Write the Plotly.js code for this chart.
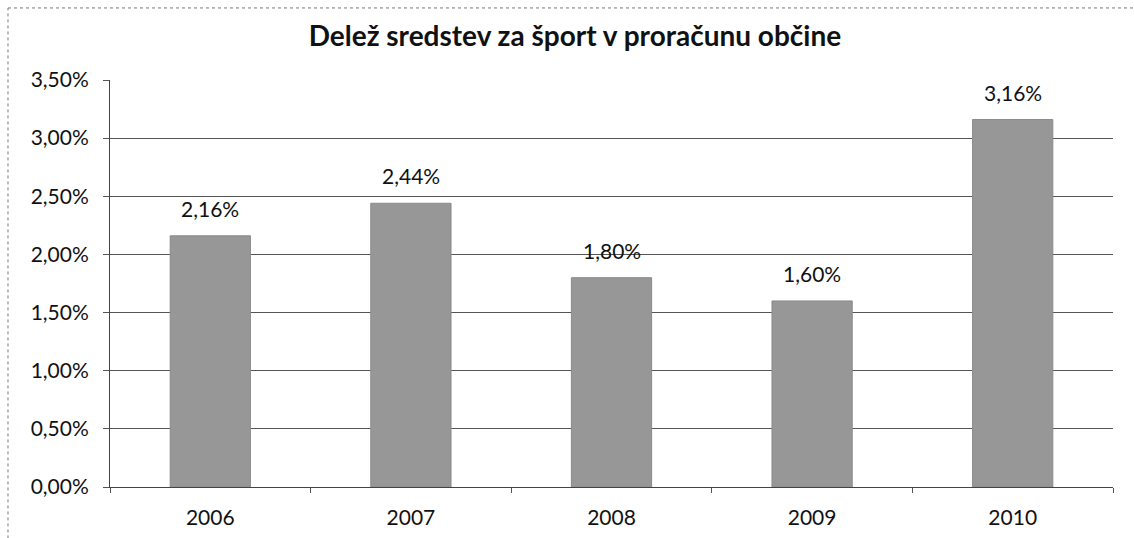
<!DOCTYPE html>
<html>
<head>
<meta charset="utf-8">
<script src="https://cdn.plot.ly/plotly-3.0.1.min.js"></script>
<style>html,body{margin:0;padding:0;background:#fff;}#chart{width:1134px;height:538px;}</style>
</head>
<body>
<div id="chart"></div>
<script>
const years = ['2006', '2007', '2008', '2009', '2010'];
const shares = [2.16, 2.44, 1.80, 1.60, 3.16];
const yTicks = [0, 0.5, 1, 1.5, 2, 2.5, 3, 3.5];
const yTickLabels = ['0,00%', '0,50%', '1,00%', '1,50%', '2,00%', '2,50%', '3,00%', '3,50%'];

const fontFam = 'Lato, "Open Sans", sans-serif';

const trace = {
  type: 'bar',
  x: years,
  y: shares,
  width: 0.4,
  marker: {color: '#979797', line: {color: '#8a8a8a', width: 1}},
  hoverinfo: 'skip'
};

// annotations on a category axis use the category index
const annotations = years.map((yr, i) => ({
  x: i, y: shares[i], xref: 'x', yref: 'y',
  text: shares[i].toFixed(2).replace('.', ',') + '%',
  showarrow: false, yanchor: 'bottom', yshift: 13,
  font: {family: fontFam, size: 21, color: '#111'}
}));

const layout = {
  width: 1134, height: 538,
  margin: {l: 110, r: 21, t: 80, b: 51},
  paper_bgcolor: '#fff', plot_bgcolor: '#fff',
  showlegend: false,
  title: {text: '<b>Delež sredstev za šport v proračunu občine</b>', x: 0.507, xanchor: 'center', y: 0.932, yanchor: 'middle',
    font: {family: fontFam, size: 28, color: '#111'}},
  xaxis: {
    type: 'category', range: [-0.5, 4.5], showgrid: false, showline: true, linecolor: '#444', linewidth: 1,
    ticks: 'outside', tickson: 'boundaries', ticklen: 5, tickcolor: '#555', ticklabelstandoff: 12,
    tickfont: {family: fontFam, size: 21, color: '#111'}, zeroline: false, fixedrange: true
  },
  yaxis: {
    range: [0, 3.5], tickvals: yTicks, ticktext: yTickLabels,
    showgrid: true, gridcolor: '#555', gridwidth: 1,
    showline: true, linecolor: '#444', linewidth: 1,
    ticks: 'outside', ticklen: 6, tickcolor: '#555', ticklabelstandoff: 10,
    tickfont: {family: fontFam, size: 21, color: '#111'}, zeroline: false, fixedrange: true
  },
  annotations: annotations,
  shapes: [
    {type: 'line', xref: 'paper', yref: 'paper', x0: -0.1017, x1: 1.03, y0: 1.177, y1: 1.177,
      line: {color: '#777', width: 1, dash: 'dot'}},
    {type: 'line', xref: 'paper', yref: 'paper', x0: -0.1017, x1: -0.1017, y0: -0.2, y1: 1.177,
      line: {color: '#777', width: 1, dash: 'dot'}}
  ]
};

Plotly.newPlot('chart', [trace], layout, {displayModeBar: false, staticPlot: true});
</script>
</body>
</html>
